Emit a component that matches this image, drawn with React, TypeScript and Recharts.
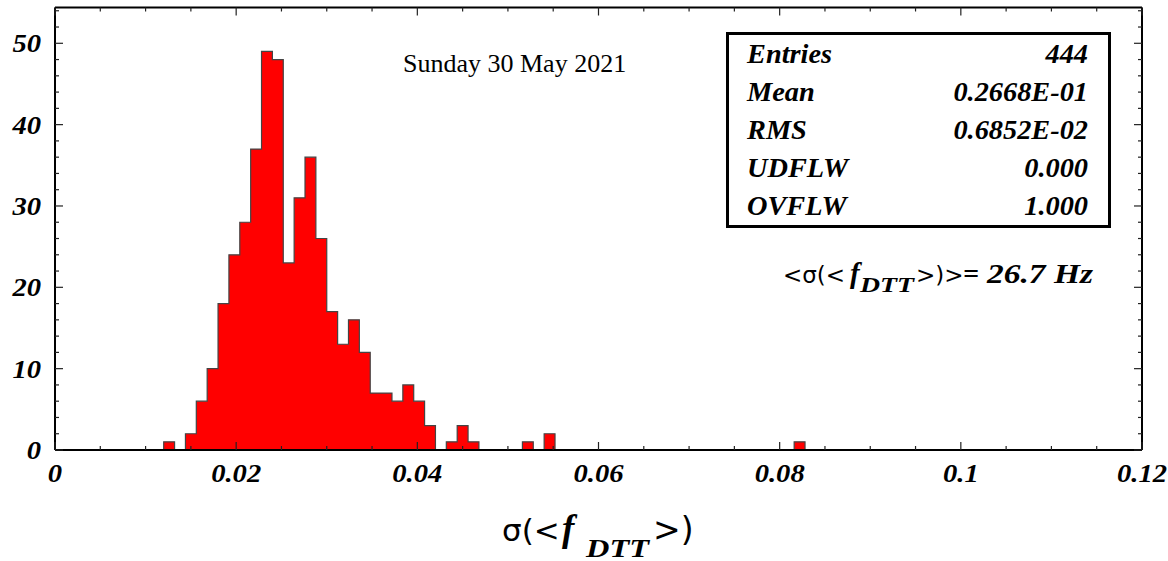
import { AreaChart, Area, XAxis, YAxis } from "recharts";

const X_MIN = 0;
const X_MAX = 0.12;
const BIN_WIDTH = 0.0012;

// entries per bin (100 bins of 0.0012 between 0 and 0.12)
const counts = [
  0, 0, 0, 0, 0, 0, 0, 0, 0, 0,
  1, 0, 2, 6, 10, 18, 24, 28, 37, 49,
  48, 23, 31, 36, 26, 17, 13, 16, 12, 7,
  7, 6, 8, 6, 3, 0, 1, 3, 1, 0,
  0, 0, 0, 1, 0, 2, 0, 0, 0, 0,
  0, 0, 0, 0, 0, 0, 0, 0, 0, 0,
  0, 0, 0, 0, 0, 0, 0, 0, 1, 0,
  0, 0, 0, 0, 0, 0, 0, 0, 0, 0,
  0, 0, 0, 0, 0, 0, 0, 0, 0, 0,
  0, 0, 0, 0, 0, 0, 0, 0, 0, 0,
];

const xMajor = [0, 0.02, 0.04, 0.06, 0.08, 0.1, 0.12];
const xMajorLabels = ["0", "0.02", "0.04", "0.06", "0.08", "0.1", "0.12"];
const X_MINOR_STEP = 0.005;

const yMajor = [0, 10, 20, 30, 40, 50];
const yMajorLabels = ["0", "10", "20", "30", "40", "50"];
const Y_MINOR_STEP = 2;
const Y_MAX = 54.4;

const statLabels = ["Entries", "Mean", "RMS", "UDFLW", "OVFLW"];
const statValues = ["444", "0.2668E-01", "0.6852E-02", "0.000", "1.000"];

const dateText = "Sunday 30 May 2021";
const meanValue = "26.7 Hz";

const W = 1168;
const H = 561;

// step points at bin edges, closed at X_MAX
const data = counts
  .map((c, i) => ({ x: +(X_MIN + i * BIN_WIDTH).toFixed(5), n: c }))
  .concat([{ x: X_MAX, n: 0 }]);

const xTicks = Array.from(
  { length: Math.round((X_MAX - X_MIN) / X_MINOR_STEP) + 1 },
  (_, i) => +(X_MIN + i * X_MINOR_STEP).toFixed(4)
);
const yTicks = Array.from(
  { length: Math.floor(Y_MAX / Y_MINOR_STEP) + 1 },
  (_, i) => i * Y_MINOR_STEP
);

const SERIF = "'Liberation Serif', 'Times New Roman', serif";
const SANS = "'DejaVu Sans', sans-serif";
const tickFont = {
  fontFamily: SERIF,
  fontWeight: "bold" as const,
  fontStyle: "italic" as const,
  fontSize: 26,
  fill: "#000",
};

const majorIndex = (list: number[], v: number) =>
  list.findIndex((m) => Math.abs(m - v) < 1e-6);

// eslint-disable-next-line @typescript-eslint/no-explicit-any
function BottomTick({ x, y, payload }: any) {
  const k = majorIndex(xMajor, payload.value);
  return (
    <g>
      <line x1={x} y1={y} x2={x} y2={y - (k >= 0 ? 8 : 4)} stroke="#222" strokeWidth={1.2} />
      {k >= 0 && (
        <text
          transform={`translate(${x},${y + 32}) scale(1.1,1)`}
          textAnchor="middle"
          style={tickFont}
        >
          {xMajorLabels[k]}
        </text>
      )}
    </g>
  );
}

// eslint-disable-next-line @typescript-eslint/no-explicit-any
function TopTick({ x, y, payload }: any) {
  const k = majorIndex(xMajor, payload.value);
  return <line x1={x} y1={y} x2={x} y2={y + (k >= 0 ? 8 : 4)} stroke="#222" strokeWidth={1.2} />;
}

// eslint-disable-next-line @typescript-eslint/no-explicit-any
function LeftTick({ x, y, payload }: any) {
  const k = majorIndex(yMajor, payload.value);
  return (
    <g>
      <line x1={x} y1={y} x2={x + (k >= 0 ? 8 : 4)} y2={y} stroke="#222" strokeWidth={1.2} />
      {k >= 0 && (
        <text
          transform={`translate(${x - 14},${y + 9}) scale(1.1,1)`}
          textAnchor="end"
          style={tickFont}
        >
          {yMajorLabels[k]}
        </text>
      )}
    </g>
  );
}

// eslint-disable-next-line @typescript-eslint/no-explicit-any
function RightTick({ x, y, payload }: any) {
  const k = majorIndex(yMajor, payload.value);
  return <line x1={x} y1={y} x2={x - (k >= 0 ? 8 : 4)} y2={y} stroke="#222" strokeWidth={1.2} />;
}

const axisLine = { stroke: "#000", strokeWidth: 2 };

export default function App() {
  return (
    <div style={{ position: "absolute", left: 0, top: 0, width: W, height: H, background: "#fff" }}>
      <AreaChart
        width={W}
        height={H}
        data={data}
        margin={{ top: 6.5, right: 25, bottom: 110, left: 54 }}
      >
        <Area
          xAxisId="b"
          yAxisId="l"
          type="stepAfter"
          dataKey="n"
          stroke="#444"
          strokeWidth={1.2}
          fill="#ff0000"
          fillOpacity={1}
          dot={false}
          activeDot={false}
          isAnimationActive={false}
        />
        <XAxis
          xAxisId="b"
          dataKey="x"
          type="number"
          domain={[X_MIN, X_MAX]}
          allowDataOverflow
          ticks={xTicks}
          interval={0}
          height={1}
          tickSize={0}
          tickMargin={0}
          tickLine={false}
          axisLine={axisLine}
          tick={<BottomTick />}
        />
        <XAxis
          xAxisId="t"
          orientation="top"
          dataKey="x"
          type="number"
          domain={[X_MIN, X_MAX]}
          allowDataOverflow
          ticks={xTicks}
          interval={0}
          height={1}
          tickSize={0}
          tickMargin={0}
          tickLine={false}
          axisLine={axisLine}
          tick={<TopTick />}
        />
        <YAxis
          yAxisId="l"
          type="number"
          domain={[0, Y_MAX]}
          allowDataOverflow
          ticks={yTicks}
          interval={0}
          width={1}
          tickSize={0}
          tickMargin={0}
          tickLine={false}
          axisLine={axisLine}
          tick={<LeftTick />}
        />
        <YAxis
          yAxisId="r"
          orientation="right"
          type="number"
          domain={[0, Y_MAX]}
          allowDataOverflow
          ticks={yTicks}
          interval={0}
          width={1}
          tickSize={0}
          tickMargin={0}
          tickLine={false}
          axisLine={axisLine}
          tick={<RightTick />}
        />
      </AreaChart>

      <svg
        width={W}
        height={H}
        style={{ position: "absolute", left: 0, top: 0, pointerEvents: "none" }}
      >
        <text x={403} y={72} fontFamily={SERIF} fontSize={26} fill="#000">
          {dateText}
        </text>

        <rect x={727.5} y={33.5} width={382} height={193} fill="#fff" stroke="#000" strokeWidth={3} />
        {statLabels.map((s, i) => (
          <g key={s}>
            <text
              transform={`translate(747,${63 + 38 * i}) scale(1.05,1)`}
              style={{ ...tickFont, fontSize: 27 }}
            >
              {s}
            </text>
            <text
              transform={`translate(1088,${63 + 38 * i}) scale(1.05,1)`}
              textAnchor="end"
              style={{ ...tickFont, fontSize: 27 }}
            >
              {statValues[i]}
            </text>
          </g>
        ))}

        {/* <σ(<f_DTT>)> = 26.7 Hz */}
        <text x={783} y={283} fontFamily={SANS} fontSize={23} fill="#000">
          &lt;σ(&lt;
        </text>
        <text x={850} y={283} style={{ ...tickFont, fontSize: 29 }}>
          f
        </text>
        <text
          x={860}
          y={292}
          style={{ ...tickFont, fontSize: 21 }}
          textLength={54}
          lengthAdjust="spacingAndGlyphs"
        >
          DTT
        </text>
        <text x={916} y={283} fontFamily={SANS} fontSize={23} fill="#000">
          &gt;)&gt;
        </text>
        <text x={963} y={283} style={{ ...tickFont, fontSize: 28 }}>
          =
        </text>
        <text
          x={987}
          y={283}
          style={{ ...tickFont, fontSize: 28 }}
          textLength={106}
          lengthAdjust="spacingAndGlyphs"
        >
          {meanValue}
        </text>

        {/* x-axis title σ(<f_DTT>) */}
        <text x={502} y={541} fontFamily={SANS} fontSize={31} fill="#000">
          σ(&lt;
        </text>
        <text x={562} y={541} style={{ ...tickFont, fontSize: 37 }}>
          f
        </text>
        <text
          x={586}
          y={557}
          style={{ ...tickFont, fontSize: 25 }}
          textLength={63}
          lengthAdjust="spacingAndGlyphs"
        >
          DTT
        </text>
        <text x={653} y={541} fontFamily={SANS} fontSize={33} fill="#000">
          &gt;)
        </text>
      </svg>
    </div>
  );
}
